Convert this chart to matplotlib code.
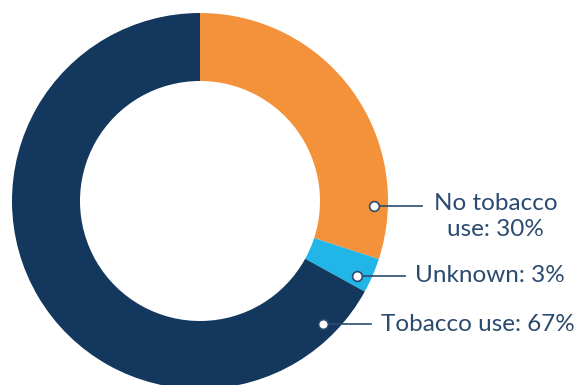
import numpy as np
import matplotlib.pyplot as plt

labels = ['No tobacco\nuse: 30%', 'Unknown: 3%', 'Tobacco use: 67%']
values = [30, 3, 67]
colors = ['#F4913B', '#22B5E7', '#13375D']

# where each label's marker sits on the ring (degrees, counter-clockwise from east)
anchor_deg = [-1.5, -25.5, -45]

txt_col = '#2B4A6F'

fig = plt.figure(figsize=(5.77, 3.85), dpi=100)
ax = fig.add_axes([0, 0, 1, 1])

cx, cy, R, w = 200, 184, 188, 68
ax.pie(values, colors=colors, startangle=90, counterclock=False,
       radius=R, center=(cx, cy), wedgeprops=dict(width=w, edgecolor='none'))
ax.set_xlim(0, 577)
ax.set_ylim(0, 385)
ax.set_aspect('equal')
ax.axis('off')

r_dot = 174
for lab, a in zip(labels, anchor_deg):
    x0 = cx + r_dot * np.cos(np.deg2rad(a))
    y0 = cy + r_dot * np.sin(np.deg2rad(a))
    x1 = x0 + 48
    ax.plot([x0, x1], [y0, y0], color=txt_col, lw=1.2, zorder=3)
    ax.plot(x0, y0, 'o', ms=7, mfc='white', mec=txt_col, mew=1.2, zorder=4)
    if '\n' in lab:
        ax.text(x1 + 12, y0 + 13, lab, ha='left', va='top', ma='center',
                fontsize=17.5, color=txt_col, family='Lato',
                linespacing=1.3)
    else:
        ax.text(x1 + 10, y0, lab, ha='left', va='center',
                fontsize=17.5, color=txt_col, family='Lato')

fig.savefig('out.png', dpi=100)
